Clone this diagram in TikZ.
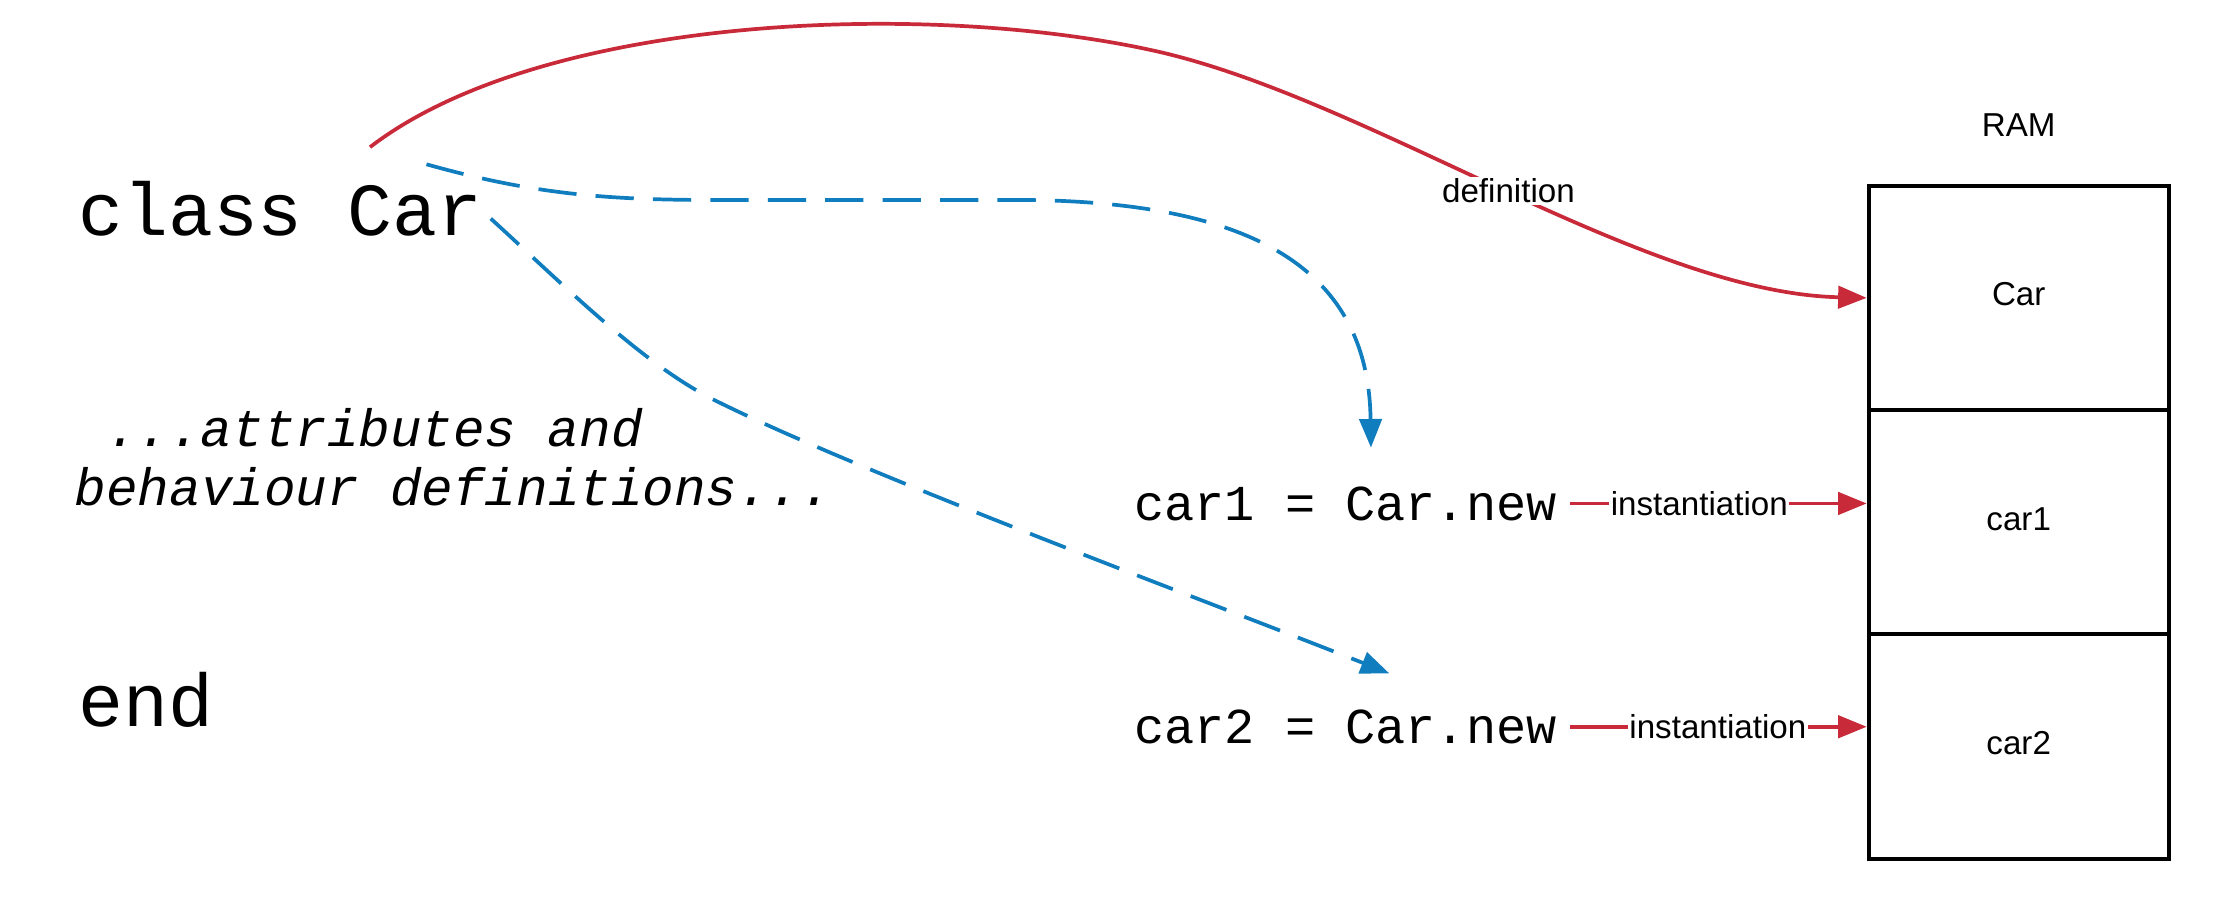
\documentclass[tikz,border=0pt]{standalone}
\usepackage{fontspec}
\setmainfont{Liberation Sans}
\newfontfamily\codefont{Liberation Mono}
\usetikzlibrary{arrows.meta}
\definecolor{myred}{RGB}{201,42,58}
\definecolor{myblue}{RGB}{15,125,190}
\begin{document}
\begin{tikzpicture}[x=0.5pt,y=-0.5pt,
  bigcode/.style={font=\codefont\fontsize{26.2pt}{30pt}\selectfont, inner sep=0pt, anchor=base west},
  midcode/.style={font=\codefont\fontsize{17.6pt}{20pt}\selectfont, inner sep=0pt, anchor=base west},
  comment/.style={font=\codefont\itshape\fontsize{18.4pt}{20.5pt}\selectfont, inner sep=0pt, anchor=base west},
  sanstext/.style={font=\fontsize{11.6pt}{14pt}\selectfont},
  cell/.style={sanstext, draw=black, line width=1.4pt, minimum width=105pt, minimum height=78.5pt, inner sep=0pt, text height=9pt, text depth=3.5pt},
  lbl/.style={sanstext, fill=white, inner sep=0.6pt},
  redarrow/.style={draw=myred, line width=1.3pt, -{Triangle[length=10pt,width=7.8pt]}},
  bluearrow/.style={draw=myblue, line width=1.3pt, dash pattern=on 13.4pt off 6.7pt, -{Triangle[length=10pt,width=7.8pt]}},
]
\useasboundingbox (0,0) rectangle (1563,630);

% code text
\node[bigcode] (classcar) at (54.4,164.5) {class Car};
\node[comment] (cm1) at (74,312.6) {...attributes and};
\node[comment] (cm2) at (52,353.5) {behaviour definitions...};
\node[bigcode] (endkw) at (54.4,508.6) {end};
\node[midcode] (car1) at (793.5,364) {car1 = Car.new};
\node[midcode] (car2) at (793.5,520.3) {car2 = Car.new};

% RAM
\node[sanstext] (ramlabel) at (1413,87.5) {RAM};
\node[cell] (ramcar) at (1413,208.5) {Car};
\node[cell] (ramcar1) at (1413,365.5) {car1};
\node[cell] (ramcar2) at (1413,522.5) {car2};

% free ends
\coordinate (defstart) at (259,103);
\coordinate (b1s) at (298.5,115);
\coordinate (b1e) at (959.6,313.3);
\coordinate (b2s) at (343.5,153);
\coordinate (b2e) at (972.4,471.3);

% definition
\draw[redarrow] (defstart) .. controls (380,10) and (650,0) .. (810,36)
   .. controls (960,70) and (1150,205) .. (ramcar.west) node[lbl,pos=0.5] {definition};

% instantiation
\draw[redarrow, shorten <=4.6pt] (car1.east) -- (car1.east -| ramcar1.west) node[lbl,pos=0.459] {instantiation};
\draw[redarrow, shorten <=4.6pt] (car2.east) -- (car2.east -| ramcar2.west) node[lbl,pos=0.519] {instantiation};

% blue dashed
\draw[bluearrow] (b1s) .. controls (370,135) and (420,140) .. (500,140) -- (720,140)
   .. controls (880,142) and (958,190) .. (b1e);
\draw[bluearrow] (b2s) .. controls (395,200) and (450,255) .. (500,280)
   .. controls (600,330) and (830,415) .. (b2e);
\end{tikzpicture}
\end{document}
